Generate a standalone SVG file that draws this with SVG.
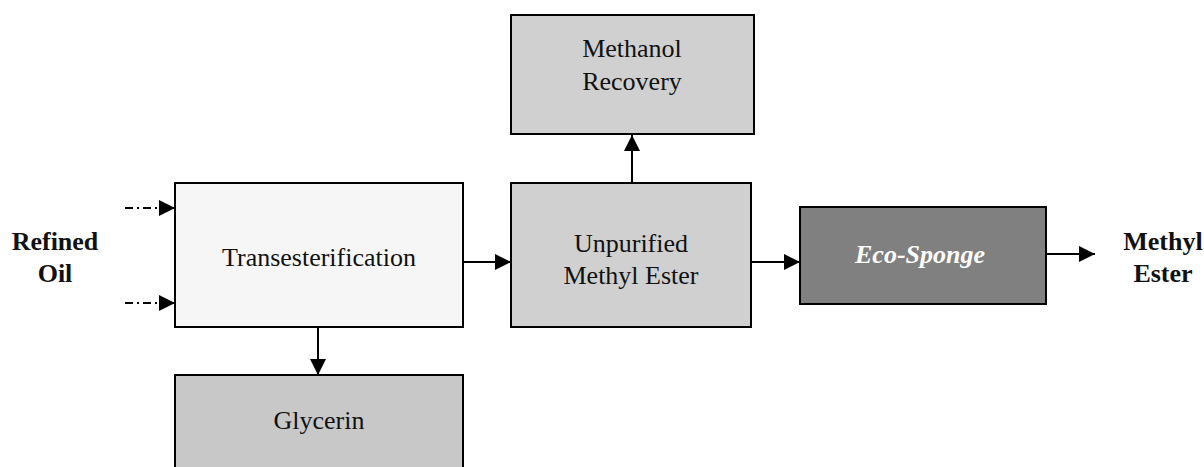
<svg xmlns="http://www.w3.org/2000/svg" width="1204" height="467" viewBox="0 0 1204 467">
<style>
.box{stroke:#000;stroke-width:2}
.t{font-family:"Liberation Serif","Times New Roman",serif;font-size:26px;fill:#111;text-anchor:middle}
.b{font-weight:bold}
.c{stroke:#000;stroke-width:2;fill:none}
.d{stroke-dasharray:8,4,2,4}
</style>
<defs>
<marker id="ah" viewBox="0 0 10 10" refX="10" refY="5" markerWidth="16" markerHeight="16" markerUnits="userSpaceOnUse" orient="auto">
<path d="M0,0 L10,5 L0,10 z" fill="#000"/>
</marker>
</defs>
<rect width="1204" height="467" fill="#fff"/>
<g id="refined-oil"><text class="t b" x="55" y="250">Refined</text><text class="t b" x="55" y="282">Oil</text></g>
<g id="methyl-ester"><text class="t b" x="1163" y="250">Methyl</text><text class="t b" x="1163" y="282">Ester</text></g>
<g id="transesterification"><rect class="box" x="175" y="183" width="288" height="144" fill="#f6f6f6"/><text class="t" x="319" y="266">Transesterification</text></g>
<g id="unpurified"><rect class="box" x="511" y="183" width="240" height="144" fill="#d0d0d0"/><text class="t" x="631" y="252">Unpurified</text><text class="t" x="631" y="284">Methyl Ester</text></g>
<g id="methanol-recovery"><rect class="box" x="511" y="15" width="243" height="119" fill="#d0d0d0"/><text class="t" x="632" y="57">Methanol</text><text class="t" x="632" y="90">Recovery</text></g>
<g id="eco-sponge"><rect class="box" x="800" y="207" width="246" height="97" fill="#808080"/><text class="t b" x="920" y="263" style="fill:#fff;font-style:italic">Eco-Sponge</text></g>
<g id="glycerin"><rect class="box" x="175" y="375" width="288" height="110" fill="#c8c8c8"/><text class="t" x="319" y="429">Glycerin</text></g>
<g id="connectors">
<line class="c d" x1="125" y1="208" x2="175" y2="208" marker-end="url(#ah)"/>
<line class="c d" x1="125" y1="303" x2="175" y2="303" marker-end="url(#ah)"/>
<line class="c" x1="463" y1="262" x2="511" y2="262" marker-end="url(#ah)"/>
<line class="c" x1="632" y1="183" x2="632" y2="135" marker-end="url(#ah)"/>
<line class="c" x1="751" y1="262" x2="800" y2="262" marker-end="url(#ah)"/>
<line class="c" x1="1046" y1="254" x2="1095" y2="254" marker-end="url(#ah)"/>
<line class="c" x1="318" y1="327" x2="318" y2="375" marker-end="url(#ah)"/>
</g>
</svg>
